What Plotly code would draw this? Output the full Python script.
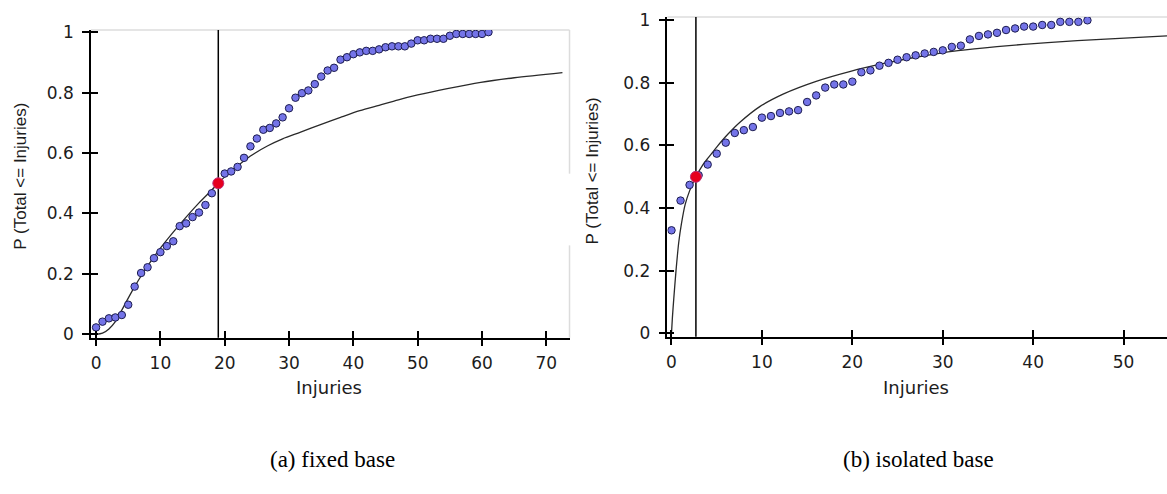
import plotly.graph_objects as go

# ---- fixed base: empirical CDF of injuries ----
fixed_x = list(range(0, 62))
fixed_p = [0.023, 0.042, 0.053, 0.056, 0.064, 0.098, 0.158, 0.203, 0.222, 0.252,
           0.272, 0.292, 0.308, 0.358, 0.367, 0.388, 0.403, 0.428, 0.467, 0.500,
           0.532, 0.539, 0.554, 0.584, 0.622, 0.648, 0.677, 0.683, 0.698, 0.718,
           0.748, 0.783, 0.798, 0.807, 0.828, 0.853, 0.873, 0.882, 0.909, 0.917,
           0.927, 0.933, 0.938, 0.938, 0.943, 0.950, 0.953, 0.953, 0.953, 0.962,
           0.973, 0.973, 0.978, 0.978, 0.978, 0.988, 0.994, 0.994, 0.994, 0.994,
           0.994, 1.000]
# fitted distribution, sampled
fixed_fit_x = [0, 1, 2, 3, 4, 5, 6, 7, 8, 10, 12, 14, 16, 18, 19, 20, 22, 24, 26.7,
               29, 31.8, 35, 38, 41, 44, 47, 50, 54.6, 59.8, 65, 72.5]
fixed_fit_p = [0.0, 0.004, 0.018, 0.042, 0.080, 0.120, 0.158, 0.193, 0.226, 0.285,
               0.338, 0.388, 0.435, 0.478, 0.500, 0.521, 0.557, 0.590, 0.624,
               0.647, 0.669, 0.695, 0.718, 0.740, 0.758, 0.776, 0.792, 0.813,
               0.834, 0.849, 0.866]
fixed_median = 19.0

# ---- isolated base ----
iso_x = list(range(0, 47))
iso_p = [0.329, 0.424, 0.474, 0.505, 0.539, 0.574, 0.609, 0.640, 0.649, 0.659,
         0.689, 0.694, 0.704, 0.709, 0.713, 0.739, 0.760, 0.785, 0.795, 0.795,
         0.804, 0.834, 0.840, 0.855, 0.864, 0.874, 0.882, 0.888, 0.894, 0.899,
         0.904, 0.915, 0.919, 0.939, 0.950, 0.955, 0.960, 0.969, 0.974, 0.980,
         0.980, 0.985, 0.985, 0.995, 0.995, 0.995, 1.000]
iso_fit_x = [0, 0.1, 0.25, 0.5, 0.8, 1.1, 1.5, 2.0, 2.7, 3.5, 4.1, 5.0, 6.2, 7.6,
             9.8, 12.4, 16, 19.8, 23.5, 27, 31.7, 36, 41.6, 48, 54.8]
iso_fit_p = [0.0, 0.05, 0.11, 0.20, 0.29, 0.35, 0.41, 0.455, 0.500, 0.540, 0.562,
             0.595, 0.635, 0.675, 0.725, 0.765, 0.805, 0.837, 0.862, 0.882, 0.903,
             0.916, 0.929, 0.940, 0.950]
iso_median = 2.7

x_ticks_fixed = [0, 10, 20, 30, 40, 50, 60, 70]
x_ticks_iso = [0, 10, 20, 30, 40, 50]
y_ticks = [0, 0.2, 0.4, 0.6, 0.8, 1]
y_tick_text = ["0", "0.2", "0.4", "0.6", "0.8", "1"]

W, H = 1167, 494
TICK_FONT = dict(family="DejaVu Sans", size=17, color="#1c1c1c")
DOT = dict(size=7.5, color="#7474e8", line=dict(color="#1d1d50", width=1))
MED = dict(size=11, color="#e6001e", line=dict(color="#c0307a", width=1))

fig = go.Figure()

panels = [
    # (xaxis, yaxis, x, p, fit_x, fit_p, median)
    ("x", "y", fixed_x, fixed_p, fixed_fit_x, fixed_fit_p, fixed_median),
    ("x2", "y2", iso_x, iso_p, iso_fit_x, iso_fit_p, iso_median),
]
for xa, ya, xs, ps, fx, fp, med in panels:
    fig.add_trace(go.Scatter(x=fx, y=fp, mode="lines",
                             line=dict(color="#2a2a2a", width=1.3, shape="spline", smoothing=0.8),
                             xaxis=xa, yaxis=ya, hoverinfo="skip"))
    fig.add_trace(go.Scatter(x=xs, y=ps, mode="markers", marker=DOT, xaxis=xa, yaxis=ya))
    fig.add_trace(go.Scatter(x=[med], y=[0.5], mode="markers", marker=MED, xaxis=xa, yaxis=ya))

# empty traces so the inner-tick overlay axes are drawn
fig.add_trace(go.Scatter(x=[], y=[], xaxis="x3", yaxis="y3"))
fig.add_trace(go.Scatter(x=[], y=[], xaxis="x4", yaxis="y4"))

left_dom_x = [90 / W, 569 / W]
left_dom_y = [1 - 340 / H, 1 - 22.7 / H]
right_dom_x = [667 / W, 1.0]
right_dom_y = [1 - 339 / H, 1 - 9.3 / H]
left_rx = [-0.8, 73.6]
left_ry = [-0.011, 1.007]
right_rx = [-0.45, 54.8]
right_ry = [-0.011, 1.0105]

axis_common = dict(showgrid=False, zeroline=False, showline=True, linecolor="black", linewidth=1.5,
                   ticks="outside", ticklen=7, tickwidth=1.5, tickcolor="black", tickfont=TICK_FONT)
inner_common = dict(showgrid=False, zeroline=False, showline=False, ticks="inside", ticklen=7,
                    tickwidth=1.5, tickcolor="black", showticklabels=False)

fig.update_layout(
    width=W, height=H, margin=dict(l=0, r=0, t=0, b=0),
    paper_bgcolor="white", plot_bgcolor="white", showlegend=False,
    xaxis=dict(domain=left_dom_x, range=left_rx, tickvals=x_ticks_fixed, anchor="y",
               ticklabelstandoff=2, **axis_common),
    yaxis=dict(domain=left_dom_y, range=left_ry, tickvals=y_ticks, ticktext=y_tick_text, anchor="x",
               ticklabelstandoff=5, **axis_common),
    xaxis2=dict(domain=right_dom_x, range=right_rx, tickvals=x_ticks_iso, anchor="y2",
                ticklabelstandoff=2, **axis_common),
    yaxis2=dict(domain=right_dom_y, range=right_ry, tickvals=y_ticks, ticktext=y_tick_text, anchor="x2",
                ticklabelstandoff=5, **axis_common),
    xaxis3=dict(overlaying="x", anchor="y", range=left_rx, tickvals=x_ticks_fixed, **inner_common),
    yaxis3=dict(overlaying="y", anchor="x", range=left_ry, tickvals=y_ticks, **inner_common),
    xaxis4=dict(overlaying="x2", anchor="y2", range=right_rx, tickvals=x_ticks_iso, **inner_common),
    yaxis4=dict(overlaying="y2", anchor="x2", range=right_ry, tickvals=y_ticks, **inner_common),
)

# light frame edges and median markers
frame = dict(color="#dcdcdc", width=1.5)
fig.add_shape(type="line", xref="x domain", yref="y domain", x0=0, x1=1, y0=1, y1=1, line=frame, layer="below")
fig.add_shape(type="line", xref="x domain", yref="y domain", x0=1, x1=1, y0=1, y1=0.533, line=frame, layer="below")
fig.add_shape(type="line", xref="x domain", yref="y domain", x0=1, x1=1, y0=0.30, y1=0, line=frame, layer="below")
fig.add_shape(type="line", xref="x2 domain", yref="y2 domain", x0=0, x1=1, y0=1, y1=1, line=frame, layer="below")
fig.add_shape(type="line", xref="x", yref="y domain", x0=fixed_median, x1=fixed_median, y0=0, y1=1,
              line=dict(color="black", width=1.5), layer="below")
fig.add_shape(type="line", xref="x2", yref="y2 domain", x0=iso_median, x1=iso_median, y0=0, y1=1,
              line=dict(color="black", width=1.5), layer="below")

ytitle = "P (Total <= Injuries)"
title_font = dict(family="Liberation Sans", size=17, color="#1c1c1c")
xt_font = dict(family="DejaVu Sans", size=18, color="#1c1c1c")
cap_font = dict(family="Liberation Serif", size=23, color="black")
notes = [
    dict(text=ytitle, x=20 / W, y=1 - 173 / H, textangle=-90, font=title_font),
    dict(text=ytitle, x=592 / W, y=1 - 168 / H, textangle=-90, font=title_font),
    dict(text="Injuries", x=328 / W, y=1 - 391 / H, font=xt_font),
    dict(text="Injuries", x=916 / W, y=1 - 391 / H, font=xt_font),
    dict(text="(a) fixed base", x=332 / W, y=1 - 466 / H, font=cap_font),
    dict(text="(b) isolated base", x=918 / W, y=1 - 466 / H, font=cap_font),
]
for n in notes:
    fig.add_annotation(xref="paper", yref="paper", showarrow=False, xanchor="center", yanchor="middle", **n)

fig.write_html("out.html")
